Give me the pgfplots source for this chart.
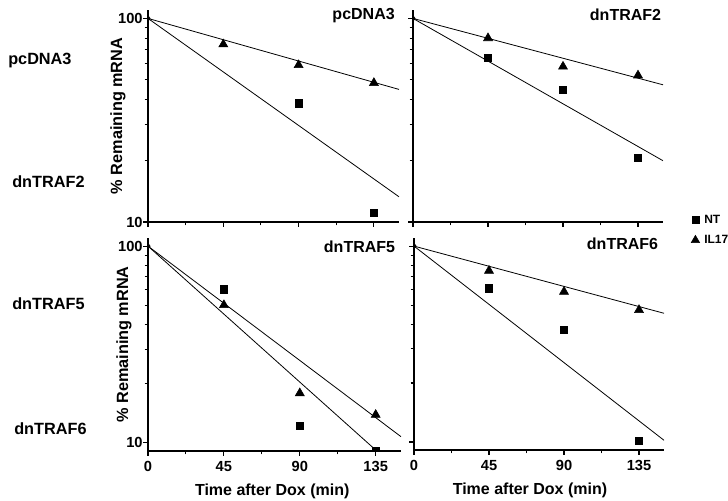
\documentclass[border=0pt]{standalone}
\usepackage{fontspec}
\setmainfont{Liberation Sans}
\usepackage{pgfplots}
\pgfplotsset{compat=1.18}

\begin{document}
\begin{tikzpicture}
\path[use as bounding box] (0,0) rectangle (546pt,375pt);

% pcDNA3
\begin{axis}[at={(111pt,208.5pt)}, anchor=south west,
  scale only axis, width=188.25pt, height=159pt,
  ymode=log, xmin=0, xmax=150, ymin=10, ymax=110,
  axis lines=left, axis line style={-, line width=0.9pt},
  xtick={0,45,90,135}, minor xtick={22.5,67.5,112.5}, xticklabels={},
  ytick={10,100}, minor ytick={20,30,40,50,60,70,80,90}, yticklabels={10,100},
  xminorticks=true, yminorticks=true,
  tick align=outside, major tick length=3.5pt, minor tick length=2.5pt,
  tick style={black, line width=0.8pt},
  tick label style={font=\fontsize{11}{13}\selectfont\bfseries},
  yticklabel style={xshift=3pt},
  clip marker paths=true,
  ylabel={\% Remaining mRNA},
  ylabel style={font=\fontsize{12.2}{14}\selectfont\bfseries, at={(axis description cs:-0.12,0.5)}, anchor=center},
  title={pcDNA3},
  title style={font=\fontsize{12}{14}\selectfont\bfseries, at={(axis description cs:0.859,0.934)}, anchor=center}]
\addplot[black, line width=0.6pt, mark=none] coordinates {(0,100) (150,44.8)};
\addplot[black, line width=0.6pt, mark=none] coordinates {(0,100) (150,13.3)};
\addplot[black, only marks, mark=triangle*, mark size=3.9pt] coordinates {(45,74.6) (90,59.0) (135,48.2)};
\addplot[black, only marks, mark=square*, mark size=2.7pt] coordinates {(90,38.3) (135,11.1)};
\addplot[black, only marks, mark=diamond*, mark size=2.2pt] coordinates {(0,100)};
\end{axis}

% dnTRAF2
\begin{axis}[at={(309.75pt,208.5pt)}, anchor=south west,
  scale only axis, width=187.5pt, height=159pt,
  ymode=log, xmin=0, xmax=150, ymin=10, ymax=110,
  axis lines=left, axis line style={-, line width=0.9pt},
  xtick={0,45,90,135}, minor xtick={22.5,67.5,112.5}, xticklabels={},
  ytick={10,100}, minor ytick={20,30,40,50,60,70,80,90}, yticklabels={},
  xminorticks=true, yminorticks=true,
  tick align=outside, major tick length=3.5pt, minor tick length=2.5pt,
  tick style={black, line width=0.8pt},
  clip marker paths=true,
  title={dnTRAF2},
  title style={font=\fontsize{12}{14}\selectfont\bfseries, at={(axis description cs:0.85,0.939)}, anchor=center},
  legend style={at={(axis description cs:1.112,0.048)}, anchor=north west,
    draw=none, fill=none, inner sep=0pt, row sep=3.5pt,
    /tikz/every odd column/.append style={column sep=1.5pt},
    font=\fontsize{9}{10}\selectfont\bfseries},
  legend cell align=left]
\addlegendimage{black, only marks, mark=square*, mark size=2.6pt}
\addlegendentry{NT}
\addlegendimage{black, only marks, mark=triangle*, mark size=3.6pt}
\addlegendentry{IL17}
\addplot[black, line width=0.6pt, mark=none] coordinates {(0,100) (150,47.2)};
\addplot[black, line width=0.6pt, mark=none] coordinates {(0,100) (150,20.0)};
\addplot[black, only marks, mark=triangle*, mark size=3.9pt] coordinates {(45,80.0) (90,58.0) (135,52.5)};
\addplot[black, only marks, mark=square*, mark size=2.7pt] coordinates {(45,63.8) (90,44.6) (135,20.7)};
\addplot[black, only marks, mark=diamond*, mark size=2.2pt] coordinates {(0,100)};
\end{axis}

% dnTRAF5
\begin{axis}[at={(111pt,36.75pt)}, anchor=south west,
  scale only axis, width=189.75pt, height=159.75pt,
  ymode=log, xmin=0, xmax=150, ymin=9.1, ymax=110,
  axis lines=left, axis line style={-, line width=0.9pt},
  xtick={0,45,90,135}, minor xtick={22.5,67.5,112.5}, xticklabels={0,45,90,135},
  ytick={10,100}, minor ytick={20,30,40,50,60,70,80,90}, yticklabels={10,100},
  xminorticks=true, yminorticks=true,
  tick align=outside, major tick length=3.5pt, minor tick length=2.5pt,
  tick style={black, line width=0.8pt},
  tick label style={font=\fontsize{11}{13}\selectfont\bfseries},
  xticklabel style={yshift=-1pt},
  yticklabel style={xshift=3pt},
  clip marker paths=true,
  ylabel={\% Remaining mRNA},
  ylabel style={font=\fontsize{12.2}{14}\selectfont\bfseries, at={(axis description cs:-0.095,0.5)}, anchor=center},
  xlabel={Time after Dox (min)},
  xlabel style={font=\fontsize{12}{14}\selectfont\bfseries, at={(axis description cs:0.491,-0.19)}, anchor=center},
  title={dnTRAF5},
  title style={font=\fontsize{12}{14}\selectfont\bfseries, at={(axis description cs:0.836,0.92)}, anchor=center}]
\addplot[black, line width=0.6pt, mark=none] coordinates {(0,100) (150,10.76)};
\addplot[black, line width=0.6pt, mark=none] coordinates {(0,100) (150,7.06)};
\addplot[black, only marks, mark=square*, mark size=2.7pt] coordinates {(45,60.4) (90,12.2) (135,9.1)};
\addplot[black, only marks, mark=triangle*, mark size=3.9pt] coordinates {(45,50.2) (90,17.9) (135,13.9)};
\addplot[black, only marks, mark=diamond*, mark size=2.2pt] coordinates {(0,100)};
\end{axis}

% dnTRAF6
\begin{axis}[at={(310.5pt,37.5pt)}, anchor=south west,
  scale only axis, width=187.5pt, height=159pt,
  ymode=log, xmin=0, xmax=150, ymin=9.1, ymax=110,
  axis lines=left, axis line style={-, line width=0.9pt},
  xtick={0,45,90,135}, minor xtick={22.5,67.5,112.5}, xticklabels={0,45,90,135},
  ytick={10,100}, minor ytick={20,30,40,50,60,70,80,90}, yticklabels={},
  xminorticks=true, yminorticks=true,
  tick align=outside, major tick length=3.5pt, minor tick length=2.5pt,
  tick style={black, line width=0.8pt},
  tick label style={font=\fontsize{11}{13}\selectfont\bfseries},
  xticklabel style={yshift=-1pt},
  clip marker paths=true,
  xlabel={Time after Dox (min)},
  xlabel style={font=\fontsize{12}{14}\selectfont\bfseries, at={(axis description cs:0.464,-0.19)}, anchor=center},
  title={dnTRAF6},
  title style={font=\fontsize{12}{14}\selectfont\bfseries, at={(axis description cs:0.834,0.934)}, anchor=center}]
\addplot[black, line width=0.6pt, mark=none] coordinates {(0,100) (150,45.4)};
\addplot[black, line width=0.6pt, mark=none] coordinates {(0,100) (150,10.2)};
\addplot[black, only marks, mark=triangle*, mark size=3.9pt] coordinates {(45,74.9) (90,58.5) (135,47.2)};
\addplot[black, only marks, mark=square*, mark size=2.7pt] coordinates {(45,60.9) (90,37.3) (135,10.1)};
\addplot[black, only marks, mark=diamond*, mark size=2.2pt] coordinates {(0,100)};
\end{axis}

\begin{scope}[every node/.style={font=\fontsize{12.2}{14}\selectfont\bfseries, anchor=base west, inner sep=0pt}]
\node at (6pt,326.25pt) {pcDNA3};
\node at (9pt,234pt) {dnTRAF2};
\node at (9pt,142.5pt) {dnTRAF5};
\node at (10.5pt,48.75pt) {dnTRAF6};
\end{scope}
\end{tikzpicture}
\end{document}
